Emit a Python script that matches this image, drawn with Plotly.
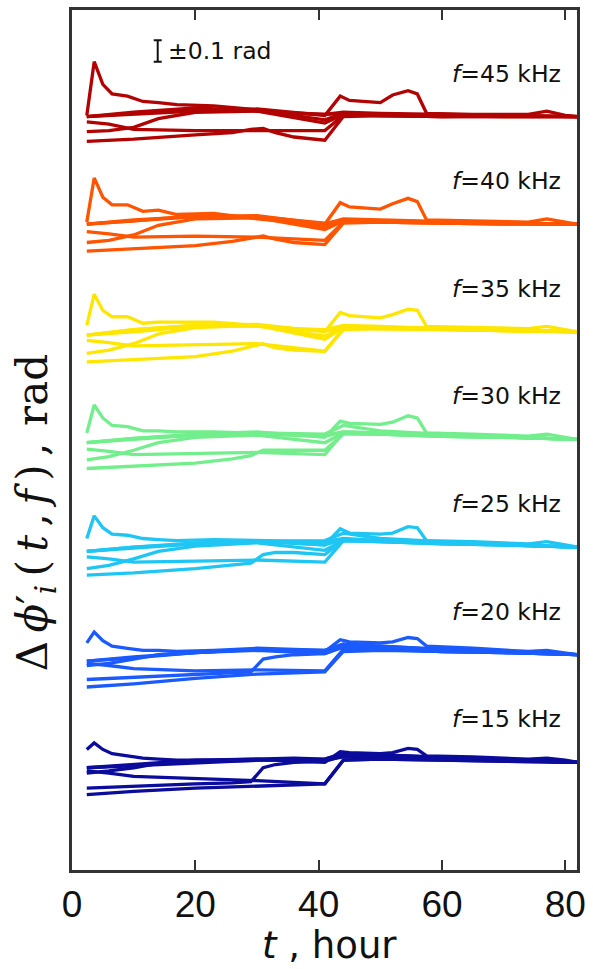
import plotly.graph_objects as go

# ---------------- data ----------------
FREQ_LABELS = ["45", "40", "35", "30", "25", "20", "15"]
GROUP_BASE = [7, 6, 5, 4, 3, 2, 1]          # vertical offset of each frequency group (rad)
COLORS = ["#B20303", "#FF5400", "#FFE600", "#72EE8C", "#1FC6F3", "#1A5AFF", "#0B0B9C"]

T1 = [2.4, 3.6, 5, 6.5, 9, 11.5, 14, 17, 23, 30, 36, 41, 44, 50, 60, 70, 82]
T2 = [2.4, 10, 20, 30, 41, 43.5, 45, 50, 52, 54.5, 56, 57.5, 65, 74, 77, 80, 82]
T3 = [2.4, 10, 20, 30, 41, 44, 50, 60, 70, 82]
T4 = [2.4, 6, 10, 20, 30, 41, 44, 50, 60, 70, 82]
T5 = [2.4, 6, 10, 14, 20, 30, 41, 44, 50, 60, 70, 82]
T6 = [2.4, 10, 20, 26, 29, 31, 33, 36, 41, 44, 50, 60, 70, 82]
T7 = [2.4, 10, 20, 30, 41, 44, 50, 60, 70, 82]
LINE_T = [T1, T2, T3, T4, T5, T6, T7]

F45 = [
    [0.01, 0.51, 0.30, 0.21, 0.19, 0.14, 0.13, 0.11, 0.10, 0.06, 0.03, 0.02, 0.04, 0.03, 0.02, 0.01, 0.0],
    [0.0, 0.03, 0.06, 0.07, 0.01, 0.19, 0.15, 0.13, 0.20, 0.24, 0.21, 0.03, 0.02, 0.02, 0.05, 0.01, 0.0],
    [0.0, 0.02, 0.05, 0.06, -0.03, 0.03, 0.02, 0.01, 0.01, 0.0],
    [-0.05, -0.07, -0.12, -0.13, -0.13, -0.13, 0.01, 0.01, 0.0, 0.01, 0.0],
    [-0.14, -0.13, -0.10, -0.02, 0.04, 0.05, -0.06, 0.02, 0.01, 0.0, 0.0, 0.0],
    [-0.23, -0.21, -0.17, -0.15, -0.12, -0.11, -0.15, -0.19, -0.22, 0.0, 0.01, 0.0, 0.0, 0.0],
    [0.0, 0.04, 0.08, 0.05, 0.02, 0.03, 0.02, 0.01, 0.0, 0.0],
]
F40 = [
    [0.02, 0.43, 0.25, 0.18, 0.18, 0.12, 0.13, 0.09, 0.10, 0.05, 0.02, 0.0, 0.05, 0.04, 0.02, 0.01, 0.0],
    [0.0, 0.04, 0.07, 0.08, 0.0, 0.20, 0.16, 0.14, 0.19, 0.24, 0.21, 0.04, 0.03, 0.02, 0.05, 0.02, 0.0],
    [0.0, 0.03, 0.07, 0.06, -0.03, 0.04, 0.03, 0.02, 0.01, 0.0],
    [-0.07, -0.09, -0.12, -0.11, -0.12, -0.15, 0.02, 0.02, 0.01, 0.01, 0.0],
    [-0.17, -0.15, -0.10, -0.01, 0.05, 0.06, -0.05, 0.03, 0.02, 0.01, 0.0, 0.0],
    [-0.25, -0.23, -0.20, -0.16, -0.13, -0.11, -0.14, -0.17, -0.19, 0.01, 0.02, 0.01, 0.0, 0.0],
    [0.0, 0.03, 0.08, 0.07, 0.01, 0.03, 0.03, 0.02, 0.01, 0.0],
]
F35 = [
    [0.06, 0.35, 0.20, 0.14, 0.14, 0.08, 0.09, 0.09, 0.09, 0.06, 0.03, 0.02, 0.06, 0.05, 0.03, 0.02, 0.0],
    [-0.03, 0.02, 0.06, 0.07, 0.0, 0.18, 0.15, 0.13, 0.16, 0.21, 0.20, 0.05, 0.04, 0.03, 0.05, 0.02, 0.0],
    [-0.03, 0.0, 0.05, 0.06, -0.04, 0.05, 0.04, 0.03, 0.02, 0.0],
    [-0.08, -0.10, -0.13, -0.12, -0.11, -0.18, 0.03, 0.03, 0.02, 0.01, 0.0],
    [-0.20, -0.17, -0.11, -0.02, 0.04, 0.06, -0.07, 0.04, 0.03, 0.02, 0.01, 0.0],
    [-0.28, -0.26, -0.23, -0.18, -0.14, -0.11, -0.15, -0.17, -0.18, 0.02, 0.03, 0.02, 0.01, 0.0],
    [-0.03, 0.02, 0.06, 0.05, 0.01, 0.04, 0.04, 0.03, 0.01, 0.0],
]
F30 = [
    [0.06, 0.32, 0.20, 0.13, 0.12, 0.08, 0.08, 0.07, 0.07, 0.06, 0.05, 0.04, 0.07, 0.06, 0.04, 0.02, 0.0],
    [-0.03, 0.01, 0.05, 0.07, 0.02, 0.17, 0.15, 0.14, 0.16, 0.22, 0.20, 0.06, 0.05, 0.03, 0.05, 0.02, 0.0],
    [-0.03, 0.0, 0.04, 0.06, 0.05, 0.13, 0.08, 0.05, 0.03, 0.0],
    [-0.09, -0.11, -0.14, -0.13, -0.12, -0.14, 0.06, 0.05, 0.03, 0.02, 0.0],
    [-0.19, -0.16, -0.10, -0.03, 0.02, 0.04, -0.03, 0.06, 0.05, 0.03, 0.02, 0.0],
    [-0.27, -0.25, -0.22, -0.18, -0.15, -0.10, -0.10, -0.10, -0.10, 0.05, 0.05, 0.03, 0.02, 0.0],
    [-0.03, 0.01, 0.04, 0.05, 0.03, 0.07, 0.06, 0.04, 0.02, 0.0],
]
F25 = [
    [0.08, 0.29, 0.18, 0.12, 0.11, 0.08, 0.07, 0.06, 0.07, 0.06, 0.05, 0.05, 0.08, 0.06, 0.04, 0.02, 0.0],
    [-0.04, 0.0, 0.04, 0.06, 0.02, 0.17, 0.13, 0.12, 0.13, 0.19, 0.18, 0.06, 0.05, 0.03, 0.05, 0.02, 0.0],
    [-0.04, -0.01, 0.03, 0.05, 0.06, 0.13, 0.08, 0.05, 0.03, 0.0],
    [-0.09, -0.11, -0.14, -0.13, -0.12, -0.14, 0.06, 0.05, 0.03, 0.02, 0.0],
    [-0.20, -0.17, -0.11, -0.04, 0.01, 0.04, -0.03, 0.06, 0.05, 0.03, 0.02, 0.0],
    [-0.26, -0.24, -0.20, -0.17, -0.15, -0.07, -0.05, -0.05, -0.07, 0.06, 0.05, 0.03, 0.02, 0.0],
    [-0.04, 0.0, 0.03, 0.05, 0.02, 0.07, 0.06, 0.04, 0.02, 0.0],
]
F20 = [
    [0.11, 0.21, 0.13, 0.08, 0.06, 0.04, 0.04, 0.03, 0.04, 0.06, 0.05, 0.04, 0.09, 0.08, 0.05, 0.03, 0.0],
    [-0.06, -0.02, 0.02, 0.05, 0.03, 0.14, 0.12, 0.11, 0.12, 0.16, 0.15, 0.08, 0.06, 0.03, 0.04, 0.02, 0.0],
    [-0.06, -0.03, 0.02, 0.05, 0.04, 0.10, 0.08, 0.05, 0.03, 0.0],
    [-0.08, -0.10, -0.13, -0.15, -0.14, -0.15, 0.05, 0.05, 0.03, 0.02, 0.0],
    [-0.10, -0.08, -0.04, 0.0, 0.02, 0.04, 0.01, 0.07, 0.06, 0.03, 0.02, 0.0],
    [-0.23, -0.21, -0.19, -0.17, -0.16, -0.04, -0.02, 0.0, 0.01, 0.08, 0.07, 0.04, 0.02, 0.0],
    [-0.30, -0.27, -0.22, -0.18, -0.16, 0.03, 0.04, 0.03, 0.02, 0.0],
]
F15 = [
    [0.12, 0.18, 0.12, 0.08, 0.06, 0.04, 0.03, 0.02, 0.02, 0.03, 0.04, 0.03, 0.08, 0.07, 0.05, 0.03, 0.0],
    [-0.05, -0.02, 0.02, 0.03, 0.0, 0.10, 0.09, 0.08, 0.09, 0.13, 0.12, 0.06, 0.05, 0.03, 0.04, 0.02, 0.0],
    [-0.05, -0.03, 0.0, 0.02, 0.03, 0.08, 0.07, 0.05, 0.03, 0.0],
    [-0.08, -0.10, -0.13, -0.15, -0.17, -0.20, 0.02, 0.03, 0.02, 0.01, 0.0],
    [-0.10, -0.08, -0.05, -0.01, 0.01, 0.02, 0.02, 0.05, 0.05, 0.03, 0.02, 0.0],
    [-0.24, -0.22, -0.20, -0.19, -0.18, -0.05, -0.02, 0.0, 0.01, 0.06, 0.05, 0.04, 0.02, 0.0],
    [-0.30, -0.27, -0.24, -0.22, -0.20, 0.02, 0.03, 0.02, 0.01, 0.0],
]
GROUPS = [F45, F40, F35, F30, F25, F20, F15]

X_TICKS = [0, 20, 40, 60, 80]
X_RANGE = [0, 81.9]
Y_RANGE = [0, 7.99]
LABEL_OFFSET = 0.40       # label height above each group's baseline (rad)
SCALE_T, SCALE_Y, SCALE_HALF = 13.9, 7.61, 0.1

# ---------------- figure ----------------
fig = go.Figure()
for gi, group in enumerate(GROUPS):
    for li, vals in enumerate(group):
        fig.add_trace(go.Scatter(
            x=LINE_T[li], y=[GROUP_BASE[gi] + v for v in vals],
            mode="lines", line=dict(color=COLORS[gi], width=3.3),
            showlegend=False, hoverinfo="skip"))

# scale bar (±0.1 rad)
fig.add_trace(go.Scatter(
    x=[SCALE_T], y=[SCALE_Y], mode="markers",
    marker=dict(size=1, color="rgba(0,0,0,0)"),
    error_y=dict(type="data", array=[SCALE_HALF], color="#111", thickness=2, width=4),
    showlegend=False, hoverinfo="skip"))

SANS = "Arial, 'Liberation Sans', Helvetica, sans-serif"
WIDE = "'DejaVu Sans', Verdana, sans-serif"
SERIF = "'Liberation Serif', 'Times New Roman', serif"
TS = "\u2009"   # thin space

annotations = [dict(
    x=SCALE_T + 1.3, y=SCALE_Y, xref="x", yref="y", xanchor="left", yanchor="middle",
    text="±0.1 rad", showarrow=False, font=dict(family=WIDE, size=23.5, color="#111"))]
for gi, lab in enumerate(FREQ_LABELS):
    annotations.append(dict(
        x=79.6, y=GROUP_BASE[gi] + LABEL_OFFSET, xref="x", yref="y",
        xanchor="right", yanchor="middle", showarrow=False,
        text=f"<span style='font-family:{SERIF}; font-size:27px'><i>f</i></span>={lab} kHz",
        font=dict(family=WIDE, size=23.5, color="#111")))

annotations.append(dict(
    x=-0.073, y=0.415, xref="paper", yref="paper", textangle=-90,
    xanchor="center", yanchor="middle", showarrow=False,
    text=(f"Δ{TS}<i>ϕ</i>′<sub><i>i</i></sub>{TS}({TS}<i>t</i>{TS},{TS}<i>f</i>{TS}){TS},{TS}{TS}rad"),
    font=dict(family="'DejaVu Serif', serif", size=42, color="#111")))
annotations.append(dict(
    x=0.51, y=-0.088, xref="paper", yref="paper",
    xanchor="center", yanchor="middle", showarrow=False,
    text=f"<span style='font-family:{SERIF}; font-size:41px'><i>t</i></span> , hour",
    font=dict(family=WIDE, size=37, color="#111")))

fig.update_layout(
    width=593, height=969,
    margin=dict(l=72, r=13, t=7, b=99),
    paper_bgcolor="white", plot_bgcolor="white",
    annotations=annotations,
    xaxis=dict(range=X_RANGE, tickvals=X_TICKS, ticktext=[str(v) for v in X_TICKS],
               ticks="inside", ticklen=10, tickwidth=2, tickcolor="#333",
               showline=True, linecolor="#333", linewidth=2.5, mirror="ticks",
               showgrid=False, zeroline=False,
               tickfont=dict(family=SANS, size=37, color="#111")),
    yaxis=dict(range=Y_RANGE, showticklabels=False, ticks="",
               showline=True, linecolor="#333", linewidth=2.5, mirror=True,
               showgrid=False, zeroline=False),
)

fig.write_html("out.html")
